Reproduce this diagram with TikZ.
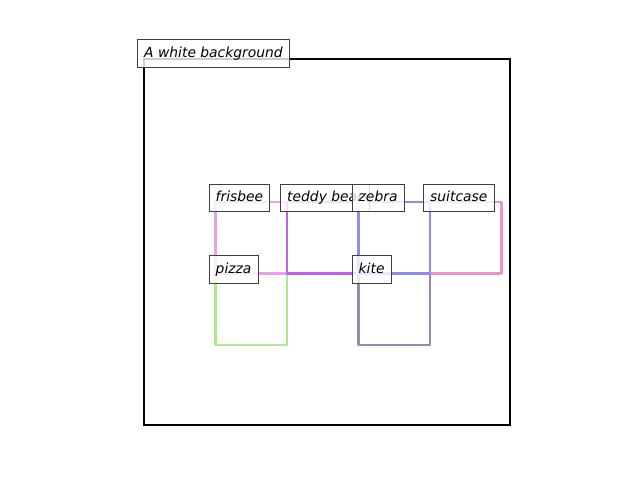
\documentclass[tikz,border=0pt]{standalone}
\usepackage{fontspec}
\setmainfont{DejaVu Sans}
\definecolor{pizzacol}{HTML}{B0E890}
\definecolor{kitecol}{HTML}{9888B0}
\definecolor{suitcasecol}{HTML}{F090D0}
\definecolor{frisbeecol}{HTML}{E8A0E8}
\definecolor{teddycol}{HTML}{C060F0}
\definecolor{zebracol}{HTML}{8C8CF5}
\begin{document}
\begin{tikzpicture}[x=0.75pt, y=-0.75pt,
    objbox/.style={line width=1.9pt, line join=round},
    tag/.style={draw=black!75, fill=white, fill opacity=0.8, text opacity=1,
      line width=0.8pt, inner xsep=5pt, minimum height=20.5pt, anchor=west,
      text height=7.8pt, text depth=2.2pt,
      font=\fontsize{10.4}{12}\selectfont\itshape}]
  % Fix the page to the size of the picture
  \useasboundingbox (0,0) rectangle (640,480);
  % Define the scale from image coordinates to pixels
  \newcommand\ImgScale{0.715}

  % Draw the background frame
  \draw[line width=1.9pt] (144,59) rectangle (510,425);

  % Draw the object boxes
  \foreach \x/\y/\col in {100/300/pizzacol, 300/300/kitecol, 400/200/suitcasecol,
                          100/200/frisbeecol, 200/200/teddycol, 300/200/zebracol} {
    \pgfmathsetmacro\X{144+\x*\ImgScale}
    \pgfmathsetmacro\Y{59+\y*\ImgScale}
    \draw[objbox, \col] (\X,\Y) rectangle ++(71.5,71.5);
  }

  % Add a label at the top left corner of each box
  \foreach \lbl/\nm/\x/\y in {pizza/pizza/100/300, kite/kite/300/300,
                              suitcase/suitcase/400/200, frisbee/frisbee/100/200,
                              teddy bear/teddy/200/200, zebra/zebra/300/200} {
    \pgfmathsetmacro\X{144+\x*\ImgScale-7}
    \pgfmathsetmacro\Y{59+\y*\ImgScale-4}
    \node[tag] (\nm) at (\X,\Y) {\lbl};
  }

  % Label of the frame
  \node[tag] (bg) at (137,53.5) {A white background};
\end{tikzpicture}
\end{document}
